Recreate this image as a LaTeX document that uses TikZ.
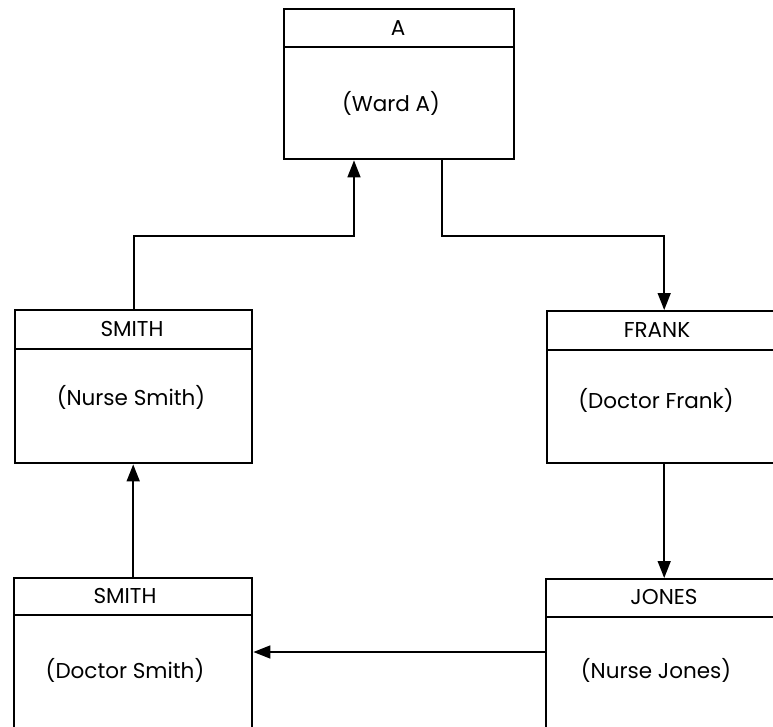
\documentclass[tikz,border=0pt]{standalone}
\usepackage{fontspec}
\setmainfont{Poppins}
\usetikzlibrary{arrows.meta}
\begin{document}
\begin{tikzpicture}[x=1pt,y=-1pt,
  box/.style={draw,line width=2.4pt,anchor=north west,inner sep=0pt},
  hdr/.style={line width=2.2pt},
  lbl/.style={font=\fontsize{21.5}{24}\selectfont,inner sep=0pt},
  conn/.style={line width=1.6pt,-{Triangle[length=17pt,width=13pt]}}]
\useasboundingbox (0,0) rectangle (773,727);
\clip (0,0) rectangle (773,727);
% boxes
\node[box,minimum width=230pt,minimum height=150pt] (a) at (283,8) {};
\draw[hdr] ([yshift=-39pt]a.north west) -- ([yshift=-39pt]a.north east);
\node[lbl] (at) at (398,28) {A};
\node[lbl] (aw) at (391,103) {(Ward A)};

\node[box,minimum width=237pt,minimum height=153pt] (ns) at (14,309) {};
\draw[hdr] ([yshift=-40pt]ns.north west) -- ([yshift=-40pt]ns.north east);
\node[lbl] (nst) at (132,329) {SMITH};
\node[lbl] (nsb) at (131,397) {(Nurse Smith)};

\node[box,minimum width=234pt,minimum height=152pt] (fr) at (546,310) {};
\draw[hdr] ([yshift=-40pt]fr.north west) -- ([yshift=-40pt]fr.north east);
\node[lbl] (frt) at (657,330) {FRANK};
\node[lbl] (frb) at (656,400) {(Doctor Frank)};

\node[box,minimum width=238pt,minimum height=160pt] (ds) at (13,577) {};
\draw[hdr] ([yshift=-38pt]ds.north west) -- ([yshift=-38pt]ds.north east);
\node[lbl] (dst) at (125,596) {SMITH};
\node[lbl] (dsb) at (125,670) {(Doctor Smith)};

\node[box,minimum width=234pt,minimum height=160pt] (jo) at (545,578) {};
\draw[hdr] ([yshift=-39pt]jo.north west) -- ([yshift=-39pt]jo.north east);
\node[lbl] (jot) at (664,597) {JONES};
\node[lbl] (job) at (656,670) {(Nurse Jones)};

% connectors
\coordinate (k1) at (354,236);
\coordinate (k2) at (442,236);
\coordinate (k3) at (400,652);
\draw[conn] (ns.north) |- (k1) -- (k1 |- a.south);
\draw[conn] (k2 |- a.south) -- (k2) -| (fr.north);
\draw[conn] (fr.south) -- (fr.south |- jo.north);
\draw[conn] (ds.north) -- (ds.north |- ns.south);
\draw[conn] (k3 -| jo.west) -- (k3 -| ds.east);
\end{tikzpicture}
\end{document}
